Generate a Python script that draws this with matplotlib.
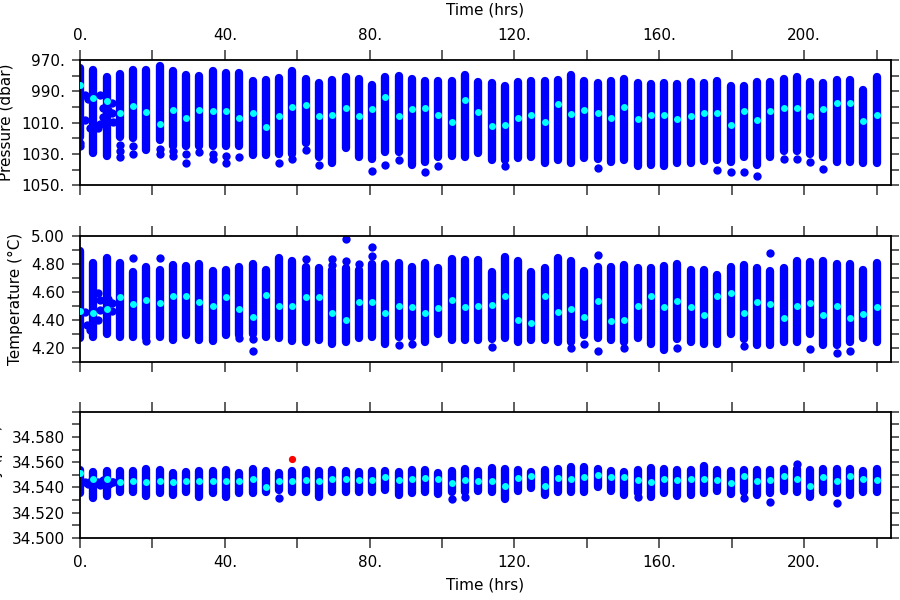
import matplotlib
matplotlib.use('Agg')
import matplotlib.pyplot as plt
from matplotlib.ticker import MultipleLocator, FuncFormatter

plt.rcParams['font.family'] = ['DejaVu Sans']
plt.rcParams['font.size'] = 11

# ---------------- data ----------------
times = [0.00, 3.67, 7.33, 11.00, 14.67, 18.33, 22.00, 25.67, 29.33, 33.00,
         36.67, 40.33, 44.00, 47.67, 51.33, 55.00, 58.67, 62.33, 66.00, 69.67,
         73.33, 77.00, 80.67, 84.33, 88.00, 91.67, 95.33, 99.00, 102.67, 106.33,
         110.00, 113.67, 117.33, 121.00, 124.67, 128.33, 132.00, 135.67, 139.33, 143.00,
         146.67, 150.33, 154.00, 157.67, 161.33, 165.00, 168.67, 172.33, 176.00, 179.67,
         183.33, 187.00, 190.67, 194.33, 198.00, 201.67, 205.33, 209.00, 212.67, 216.33,
         220.00]

# Pressure (dbar): column top, bottom of main column, isolated points, column mean
p_top = [975.3, 976.4, 981.0, 979.0, 976.4, 976.4, 974.0, 977.0, 979.6, 980.0,
         977.0, 978.0, 978.5, 983.6, 982.8, 981.7, 977.0, 982.3, 984.5, 982.8,
         981.0, 982.3, 986.0, 981.0, 980.2, 982.3, 983.2, 983.4, 983.2, 979.6,
         983.8, 984.5, 986.6, 983.8, 983.2, 983.2, 982.8, 979.6, 983.6, 985.0,
         983.4, 982.0, 984.5, 985.3, 984.5, 985.3, 983.8, 984.5, 983.2, 986.6,
         986.6, 983.8, 983.8, 982.3, 981.0, 983.8, 985.0, 982.8, 982.8, 989.0,
         980.6]
p_bot = [1019.0, 1029.6, 1031.0, 1019.0, 1020.0, 1027.5, 1021.0, 1025.0, 1025.0, 1025.0,
         1025.0, 1025.0, 1025.0, 1030.6, 1030.6, 1030.0, 1030.0, 1023.0, 1031.7, 1036.0,
         1026.4, 1031.7, 1033.0, 1029.0, 1029.0, 1037.0, 1035.0, 1032.0, 1031.0, 1031.7,
         1029.6, 1033.8, 1034.0, 1032.8, 1031.7, 1036.0, 1033.8, 1036.0, 1032.8, 1033.0,
         1035.0, 1033.8, 1037.7, 1037.0, 1038.0, 1036.0, 1036.0, 1034.5, 1034.0, 1035.0,
         1032.0, 1037.0, 1031.7, 1028.0, 1028.0, 1030.0, 1032.0, 1035.0, 1035.0, 1036.0,
         1036.0]
p_iso = [[1023, 1025], [], [], [1024, 1028, 1032], [1025, 1030], [], [1027, 1030],
         [1028, 1031], [1030, 1035.5], [1028.5], [1030, 1033], [1031, 1036], [1032], [], [],
         [1036], [1033.4], [1027.5], [1037], [], [], [], [1040.6], [1037], [1033.8], [],
         [1041.7], [1037.5], [], [], [], [], [1038], [], [], [], [], [], [], [1039], [], [],
         [], [], [], [], [], [], [1040], [1041.3], [1041.3], [1044], [], [1033.4], [1033.4],
         [1035], [1039.8], [], [], [], []]
p_mean = [986.0, 994.0, 996.0, 1004.0, 999.4, 1003.0, 1011.0, 1002.0, 1007.0, 1002.0,
          1002.6, 1002.6, 1007.0, 1004.0, 1013.0, 1006.0, 1000.0, 999.0, 1006.0, 1005.0,
          1000.4, 1005.7, 1001.3, 993.8, 1005.7, 1001.5, 1000.4, 1005.0, 1009.4, 995.5,
          1003.4, 1012.0, 1011.5, 1007.0, 1005.0, 1009.8, 998.0, 1004.6, 1002.0, 1004.0,
          1007.0, 1000.0, 1007.7, 1005.0, 1005.0, 1007.7, 1005.7, 1004.0, 1004.0, 1011.5,
          1002.6, 1008.0, 1002.6, 1000.9, 1000.9, 1005.5, 1001.5, 997.2, 997.7, 1009.0,
          1005.0]
# scattered points of the first hours
p_early_t = [1.4, 2.3, 1.4, 2.75, 5.05, 5.5, 6.4, 6.4, 5.5, 8.7, 8.7, 9.2, 7.8]
p_early_v = [992.3, 994.9, 1008.3, 1013.2, 1013.2, 992.3, 1000.9, 1006.2, 1010.9,
             997.7, 1004.0, 1009.4, 1002.0]

# Temperature (deg C)
t_top = [4.89, 4.81, 4.84, 4.81, 4.74, 4.78, 4.76, 4.79, 4.785, 4.80,
         4.75, 4.76, 4.78, 4.80, 4.756, 4.845, 4.82, 4.78, 4.77, 4.76,
         4.77, 4.76, 4.80, 4.80, 4.81, 4.78, 4.81, 4.77, 4.833, 4.83,
         4.83, 4.745, 4.847, 4.823, 4.745, 4.77, 4.84, 4.823, 4.75, 4.78,
         4.78, 4.79, 4.77, 4.773, 4.787, 4.80, 4.76, 4.756, 4.72, 4.776,
         4.79, 4.77, 4.75, 4.77, 4.823, 4.816, 4.82, 4.80, 4.80, 4.756,
         4.81]
t_bot = [4.27, 4.28, 4.30, 4.28, 4.28, 4.27, 4.28, 4.255, 4.29, 4.255,
         4.25, 4.29, 4.29, 4.30, 4.28, 4.27, 4.25, 4.243, 4.255, 4.23,
         4.243, 4.27, 4.28, 4.23, 4.28, 4.28, 4.243, 4.30, 4.255, 4.255,
         4.255, 4.26, 4.267, 4.243, 4.255, 4.255, 4.243, 4.243, 4.29, 4.27,
         4.255, 4.24, 4.27, 4.23, 4.183, 4.26, 4.243, 4.23, 4.23, 4.30,
         4.26, 4.22, 4.22, 4.243, 4.243, 4.30, 4.22, 4.22, 4.24, 4.267,
         4.243]
t_iso = [[], [], [], [], [4.845], [4.25], [4.845], [], [], [], [], [], [4.27],
         [4.26, 4.176], [], [], [], [4.835], [], [4.835, 4.79], [4.98, 4.82], [4.80],
         [4.92, 4.86], [], [4.22], [4.23], [], [], [], [], [], [4.207], [], [], [], [],
         [], [4.195], [4.226], [4.864, 4.18], [], [4.195], [], [], [], [4.20], [], [],
         [], [], [4.21], [], [4.876], [], [], [4.19], [], [4.164], [4.18], [], []]
t_mean = [4.46, 4.45, 4.48, 4.56, 4.51, 4.54, 4.52, 4.57, 4.57, 4.525,
          4.50, 4.56, 4.48, 4.42, 4.575, 4.50, 4.50, 4.56, 4.56, 4.446,
          4.40, 4.53, 4.53, 4.446, 4.50, 4.49, 4.446, 4.487, 4.54, 4.49,
          4.50, 4.506, 4.573, 4.40, 4.38, 4.573, 4.453, 4.475, 4.417, 4.537,
          4.393, 4.40, 4.50, 4.573, 4.49, 4.535, 4.494, 4.434, 4.573, 4.59,
          4.45, 4.53, 4.513, 4.41, 4.50, 4.52, 4.434, 4.50, 4.41, 4.44,
          4.494]
t_early_t = [1.4, 2.0, 2.75, 5.05, 5.5, 5.05, 5.5, 7.8, 8.7, 8.7]
t_early_v = [4.458, 4.362, 4.33, 4.59, 4.54, 4.40, 4.47, 4.55, 4.52, 4.46]

# Salinity (psu)
s_top = [34.5536, 34.5523, 34.5531, 34.5531, 34.5531, 34.5549, 34.5541, 34.5517, 34.5523, 34.5531,
         34.5531, 34.5541, 34.5517, 34.5549, 34.5531, 34.5517, 34.5531, 34.5536, 34.5531, 34.5536,
         34.5531, 34.5523, 34.5531, 34.5531, 34.5523, 34.5536, 34.5541, 34.5517, 34.5531, 34.5549,
         34.5531, 34.5554, 34.5544, 34.5536, 34.5523, 34.5536, 34.5544, 34.5562, 34.5562, 34.5549,
         34.5531, 34.5523, 34.5541, 34.5554, 34.5549, 34.5536, 34.5536, 34.5568, 34.5536, 34.5528,
         34.5536, 34.5536, 34.5541, 34.5549, 34.5549, 34.5536, 34.5549, 34.5549, 34.5544, 34.5531,
         34.5544]
s_bot = [34.5351, 34.5319, 34.5330, 34.5364, 34.5364, 34.5330, 34.5356, 34.5343, 34.5364, 34.5325,
         34.5356, 34.5325, 34.5351, 34.5351, 34.5364, 34.5378, 34.5364, 34.5364, 34.5325, 34.5359,
         34.5359, 34.5359, 34.5359, 34.5378, 34.5338, 34.5351, 34.5359, 34.5346, 34.5364, 34.5364,
         34.5372, 34.5359, 34.5306, 34.5372, 34.5391, 34.5343, 34.5359, 34.5359, 34.5359, 34.5404,
         34.5372, 34.5338, 34.5351, 34.5325, 34.5351, 34.5330, 34.5338, 34.5351, 34.5372, 34.5346,
         34.5364, 34.5338, 34.5351, 34.5370, 34.5359, 34.5325, 34.5364, 34.5351, 34.5338, 34.5359,
         34.5359]
s_iso = [[], [], [], [], [], [], [], [], [], [], [], [], [], [], [], [34.5319], [], [], [], [],
         [], [], [], [], [], [], [], [], [34.5306], [34.5325], [], [], [], [], [], [], [], [], [],
         [], [], [], [34.5325], [], [], [], [], [], [], [], [34.5317], [], [34.5285], [],
         [34.5589], [], [], [34.5272], [], [], []]
s_mean = [34.5517, 34.5465, 34.5465, 34.5444, 34.5451, 34.5444, 34.5449, 34.5444, 34.5454, 34.5454,
          34.5454, 34.5449, 34.5454, 34.5470, 34.5404, 34.5454, 34.5454, 34.5457, 34.5454, 34.5470,
          34.5465, 34.5457, 34.5457, 34.5483, 34.5457, 34.5465, 34.5475, 34.5465, 34.5436, 34.5457,
          34.5449, 34.5449, 34.5412, 34.5475, 34.5488, 34.5409, 34.5475, 34.5465, 34.5483, 34.5496,
          34.5478, 34.5478, 34.5457, 34.5444, 34.5470, 34.5457, 34.5470, 34.5470, 34.5457, 34.5438,
          34.5491, 34.5451, 34.5457, 34.5488, 34.5465, 34.5412, 34.5483, 34.5451, 34.5488, 34.5470,
          34.5457]
s_early_t = [1.4, 2.3, 3.0, 5.0, 5.5, 6.4, 8.0, 8.7, 9.2]
s_early_v = [34.5440, 34.5425, 34.5450, 34.5440, 34.5420, 34.5460, 34.5425, 34.5445, 34.5440]
# flagged salinity value
s_flag_t = [58.67]
s_flag_v = [34.5623]

BLUE = '#0000FF'
CYAN = '#00FFFF'
RED = '#FF0000'

fig = plt.figure(figsize=(9, 6), dpi=100)
ax_p = fig.add_axes([0.0889, 0.6912, 0.9011, 0.2088])
ax_t = fig.add_axes([0.0889, 0.3972, 0.9011, 0.2095])
ax_s = fig.add_axes([0.0889, 0.1038, 0.9011, 0.2100])

def draw(ax, top, bot, iso, mean, et, ev):
    lc = ax.vlines(times, top, bot, colors=BLUE, linewidth=6.0, zorder=2)
    lc.set_capstyle('round')
    it, iv = [], []
    for t, vals in zip(times, iso):
        for v in vals:
            it.append(t)
            iv.append(v)
    ax.plot(it, iv, 'o', color=BLUE, ms=6.0, mec='none', zorder=2)
    ax.plot(et, ev, 'o', color=BLUE, ms=6.0, mec='none', zorder=2)
    ax.plot(times, mean, 'o', color=CYAN, ms=5.0, mec='none', zorder=3)

draw(ax_p, p_top, p_bot, p_iso, p_mean, p_early_t, p_early_v)
draw(ax_t, t_top, t_bot, t_iso, t_mean, t_early_t, t_early_v)
draw(ax_s, s_top, s_bot, s_iso, s_mean, s_early_t, s_early_v)
ax_s.plot(s_flag_t, s_flag_v, 'o', color=RED, ms=5.2, mec='none', zorder=4)

ax_p.set_ylim(1050, 970)
ax_t.set_ylim(4.10, 5.00)
ax_s.set_ylim(34.50, 34.60)

xfmt = FuncFormatter(lambda v, pos: f"{v:.0f}." if round(v) % 40 == 0 else "")
pfmt = FuncFormatter(lambda v, pos: f"{v:.0f}." if round(v - 970) % 20 == 0 else "")
tfmt = FuncFormatter(lambda v, pos: f"{v:.2f}" if round(v * 10) % 2 == 0 else "")
sfmt = FuncFormatter(lambda v, pos: f"{v:.3f}" if (round(v * 100) % 2 == 0 and v < 34.595) else "")

for ax, yloc, yfmt in [(ax_p, 10, pfmt), (ax_t, 0.1, tfmt), (ax_s, 0.01, sfmt)]:
    ax.set_xlim(0, 224)
    ax.xaxis.set_major_locator(MultipleLocator(20))
    ax.xaxis.set_major_formatter(xfmt)
    ax.yaxis.set_major_locator(MultipleLocator(yloc))
    ax.yaxis.set_major_formatter(yfmt)
    for sp in ax.spines.values():
        sp.set_linewidth(1.3)
        sp.set_color('black')
    ax.tick_params(axis='x', direction='out', length=7.2, width=1.1, color='#333333',
                   top=True, bottom=True, pad=5, labelsize=11)
    ax.tick_params(axis='y', direction='out', length=5.8, width=1.1, color='#333333',
                   left=True, right=True, labelright=False, pad=5, labelsize=11)

ax_p.tick_params(axis='x', labeltop=True, labelbottom=False)
ax_t.tick_params(axis='x', labeltop=False, labelbottom=False)
ax_s.tick_params(axis='x', labeltop=False, labelbottom=True)

ax_p.xaxis.set_label_position('top')
ax_p.set_xlabel('Time (hrs)', fontsize=11, labelpad=9.5)
ax_s.set_xlabel('Time (hrs)', fontsize=11, labelpad=6)
ax_p.set_ylabel('Pressure (dbar)', fontsize=11, labelpad=6)
ax_t.set_ylabel('Temperature (°C)', fontsize=11, labelpad=6)
ax_s.set_ylabel('Salinity (psu)', fontsize=11, labelpad=6)

fig.savefig('out.png', dpi=100)
